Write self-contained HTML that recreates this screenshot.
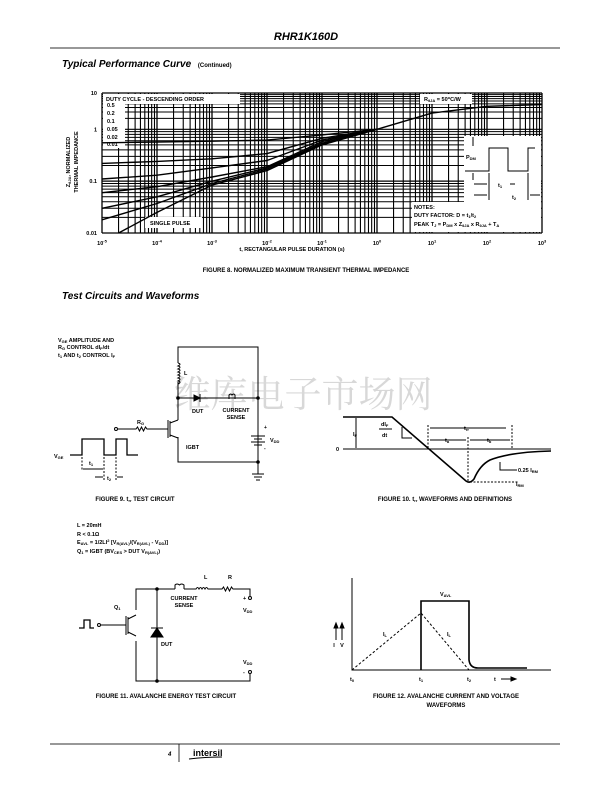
<!DOCTYPE html>
<html><head><meta charset="utf-8">
<style>
html,body{margin:0;padding:0;background:#fff}
svg{display:block}
text{font-family:"Liberation Sans",Arial,sans-serif;font-weight:bold;fill:#000}
.cj{font-family:"Liberation Serif","Noto Serif CJK SC",serif;font-weight:normal}
</style></head><body>
<svg id="page" width="612" height="792" viewBox="0 0 612 792" xmlns="http://www.w3.org/2000/svg">
<text x="306" y="40" font-size="11" font-style="italic" text-anchor="middle">RHR1K160D</text>
<line x1="50" y1="48" x2="560" y2="48" stroke="#777" stroke-width="1.5"/>
<text x="62" y="67" font-size="10" font-style="italic">Typical Performance Curve <tspan font-size="6" font-style="normal" dx="4">(Continued)</tspan></text>

<g id="chart"></g>

<text x="306" y="272" font-size="6" text-anchor="middle">FIGURE 8.  NORMALIZED MAXIMUM TRANSIENT THERMAL IMPEDANCE</text>
<text x="62" y="299" font-size="10" font-style="italic">Test Circuits and Waveforms</text>

<text class="cj" x="303" y="407" font-size="37" text-anchor="middle" fill="#d8d8d8" style="fill:#d8d8d8">维库电子市场网</text>

<!-- FIGURE 9 -->
<g stroke="#000" fill="none" stroke-width="1">
<text x="58" y="342" font-size="5.5" stroke="none" fill="#000">V<tspan font-size="4" dy="1">GE</tspan><tspan dy="-1"> AMPLITUDE AND</tspan></text>
<text x="58" y="349" font-size="5.5" stroke="none">R<tspan font-size="4" dy="1">G</tspan><tspan dy="-1"> CONTROL dI</tspan><tspan font-size="4" dy="1">F</tspan><tspan dy="-1">/dt</tspan></text>
<text x="58" y="357" font-size="5.5" stroke="none">t<tspan font-size="4" dy="1">1</tspan><tspan dy="-1"> AND t</tspan><tspan font-size="4" dy="1">2</tspan><tspan dy="-1"> CONTROL I</tspan><tspan font-size="4" dy="1">F</tspan></text>
<path d="M178 363 V347 H258 V462 H178 V437 M178 382 V420"/>
<path d="M178 363 q4 1 0 3 q4 1 0 3 q4 1 0 3 q4 1 0 3 q4 1 0 3 q4 1 0 3 q4 1 0 3"/>
<text x="184" y="375" font-size="5.5" stroke="none">L</text>
<path d="M178 398 H258"/>
<polygon points="194,395 194,401 200,398" fill="#000"/><line x1="200" y1="394" x2="200" y2="402"/>
<path d="M229 399 v-4 q2 -2 3 0 q2 -2 3 0 v4" />
<circle cx="178" cy="398" r="1.3" fill="#000"/><circle cx="258" cy="398" r="1.3" fill="#000"/><circle cx="258" cy="462" r="1.3" fill="#000"/>
<text x="192" y="413" font-size="5.5" stroke="none">DUT</text>
<text x="236" y="412" font-size="5.5" stroke="none" text-anchor="middle">CURRENT</text>
<text x="236" y="419" font-size="5.5" stroke="none" text-anchor="middle">SENSE</text>
<path d="M170 421 v16 M168 420 v18 M170 423 l8 -3 M170 435 l8 3"/>
<circle cx="116" cy="429" r="1.5"/>
<path d="M118 429 H136 l1.5 -2 l2 4 l2 -4 l2 4 l2 -4 l1.5 2 H168"/>
<text x="137" y="424" font-size="5.5" stroke="none">R<tspan font-size="4" dy="1">G</tspan></text>
<text x="186" y="449" font-size="5.5" stroke="none">IGBT</text>
<path d="M251 436 h14 M254 439 h8 M251 442 h14 M254 445 h8"/>
<text x="264" y="429" font-size="5" stroke="none">+</text><text x="264" y="450" font-size="5" stroke="none">-</text>
<text x="270" y="442" font-size="5.5" stroke="none">V<tspan font-size="4" dy="1">DD</tspan></text>
<path d="M258 462 V474 M252 474 h12 M254 477 h8 M256 480 h4"/>
<path d="M70 455 H82 V439 H104 V455 H116 V439 H127 V455 H138" stroke-width="1.3"/>
<text x="54" y="458" font-size="5.5" stroke="none">V<tspan font-size="4" dy="1">GE</tspan></text>
<path d="M82 457 V470 M104 457 V480 M116 457 V480" stroke-dasharray="2,1.5"/>
<path d="M83 469 h20 M95 477 h8 M117 477 h6"/>
<text x="89" y="465" font-size="5.5" stroke="none">t<tspan font-size="4" dy="1">1</tspan></text>
<text x="107" y="480" font-size="5.5" stroke="none">t<tspan font-size="4" dy="1">2</tspan></text>
</g>
<text x="135" y="501" font-size="6" text-anchor="middle">FIGURE 9.  t<tspan font-size="4" dy="1">rr</tspan><tspan dy="-1"> TEST CIRCUIT</tspan></text>

<!-- FIGURE 10 -->
<g stroke="#000" fill="none" stroke-width="1">
<line x1="343" y1="449" x2="551" y2="449"/>
<text x="336" y="451" font-size="5.5" stroke="none">0</text>
<path d="M343 417 H392 L466 481 Q470 484 474 479 Q480 465 490 460 Q510 452 551 451" stroke-width="1.6"/>
<path d="M356 418 v30" /><text x="353" y="436" font-size="5.5" stroke="none">I<tspan font-size="4" dy="1">F</tspan></text>
<text x="381" y="426" font-size="5.5" stroke="none">dI<tspan font-size="4" dy="1">F</tspan></text>
<line x1="379" y1="429" x2="392" y2="429"/><text x="382" y="437" font-size="5.5" stroke="none">dt</text>
<path d="M402 427 V438 H412"/>
<path d="M428 425 V449 M512 425 V449 M468 437 V482" stroke-dasharray="2,1.5"/>
<path d="M430 428 H506 M430 440 H466 M470 440 H510"/>
<text x="464" y="430" font-size="5.5" stroke="none">t<tspan font-size="4" dy="1">rr</tspan></text>
<text x="445" y="442" font-size="5.5" stroke="none">t<tspan font-size="4" dy="1">a</tspan></text>
<text x="487" y="442" font-size="5.5" stroke="none">t<tspan font-size="4" dy="1">b</tspan></text>
<path d="M470 482 H518" stroke-dasharray="2,1.5"/>
<path d="M500 462 V470 H517"/>
<text x="518" y="472" font-size="5.5" stroke="none">0.25 I<tspan font-size="4" dy="1">RM</tspan></text>
<text x="516" y="486" font-size="5.5" stroke="none">I<tspan font-size="4" dy="1">RM</tspan></text>
</g>
<text x="445" y="501" font-size="6" text-anchor="middle">FIGURE 10.  t<tspan font-size="4" dy="1">rr</tspan><tspan dy="-1"> WAVEFORMS AND DEFINITIONS</tspan></text>

<!-- FIGURE 11 -->
<g stroke="#000" fill="none" stroke-width="1">
<text x="77" y="527" font-size="5.5" stroke="none">L = 20mH</text>
<text x="77" y="536" font-size="5.5" stroke="none">R &lt; 0.1Ω</text>
<text x="77" y="544" font-size="5.5" stroke="none">E<tspan font-size="4" dy="1">AVL</tspan><tspan dy="-1"> = 1/2LI</tspan><tspan font-size="4" dy="-2">2</tspan><tspan dy="2"> [V</tspan><tspan font-size="4" dy="1">R(AVL)</tspan><tspan dy="-1">/(V</tspan><tspan font-size="4" dy="1">R(AVL)</tspan><tspan dy="-1"> - V</tspan><tspan font-size="4" dy="1">DD</tspan><tspan dy="-1">)]</tspan></text>
<text x="77" y="553" font-size="5.5" stroke="none">Q<tspan font-size="4" dy="1">1</tspan><tspan dy="-1"> = IGBT (BV</tspan><tspan font-size="4" dy="1">CES</tspan><tspan dy="-1"> &gt; DUT V</tspan><tspan font-size="4" dy="1">R(AVL)</tspan><tspan dy="-1">)</tspan></text>
<path d="M136 610 V589 H175 M184 589 H196 q1.5 -3 3 0 q1.5 -3 3 0 q1.5 -3 3 0 q1.5 -3 3 0 H222 l1.5 -2 l2 4 l2 -4 l2 4 l2 -4 l1.5 2 H250 V596"/>
<path d="M175 589 v-4 q2 -2 4.5 0 q2 -2 4.5 0 v4"/>
<path d="M136 641 V681 H250 V674 M157 589 V681"/>
<polygon points="151,637 163,637 157,628" fill="#000"/><line x1="151" y1="628" x2="163" y2="628"/>
<circle cx="157" cy="589" r="1.3" fill="#000"/><circle cx="157" cy="681" r="1.3" fill="#000"/>
<circle cx="250" cy="598" r="1.5"/><circle cx="250" cy="672" r="1.5"/>
<path d="M128 617 v17 M126 616 v19 M128 619 l8 -4 M128 632 l8 4"/>
<circle cx="99" cy="625" r="1.5"/><path d="M101 625 H126"/>
<path d="M79 628 H84 V620 H90 V628 H94" stroke-width="1.3"/>
<text x="114" y="609" font-size="5.5" stroke="none">Q<tspan font-size="4" dy="1">1</tspan></text>
<text x="161" y="646" font-size="5.5" stroke="none">DUT</text>
<text x="204" y="579" font-size="5.5" stroke="none">L</text>
<text x="228" y="579" font-size="5.5" stroke="none">R</text>
<text x="184" y="600" font-size="5.5" stroke="none" text-anchor="middle">CURRENT</text>
<text x="184" y="607" font-size="5.5" stroke="none" text-anchor="middle">SENSE</text>
<text x="243" y="600" font-size="5.5" stroke="none">+</text>
<text x="243" y="612" font-size="5.5" stroke="none">V<tspan font-size="4" dy="1">DD</tspan></text>
<text x="243" y="664" font-size="5.5" stroke="none">V<tspan font-size="4" dy="1">DD</tspan></text>
<text x="243" y="674" font-size="5.5" stroke="none">-</text>
</g>
<text x="166" y="698" font-size="6" text-anchor="middle">FIGURE 11.  AVALANCHE ENERGY TEST CIRCUIT</text>

<!-- FIGURE 12 -->
<g stroke="#000" fill="none" stroke-width="1">
<path d="M352 578 V670 H551"/>
<path d="M421 670 V601 H469 V660 Q470 668 478 668 H527" stroke-width="1.6"/>
<path d="M352 670 L421 613 L469 670" stroke-dasharray="2.5,2"/>
<text x="383" y="636" font-size="5.5" stroke="none">I<tspan font-size="4" dy="1">L</tspan></text>
<text x="447" y="636" font-size="5.5" stroke="none">I<tspan font-size="4" dy="1">L</tspan></text>
<text x="440" y="596" font-size="5.5" stroke="none">V<tspan font-size="4" dy="1">AVL</tspan></text>
<path d="M336 640 V626 M342 640 V626"/>
<polygon points="334,628 338,628 336,623" fill="#000"/><polygon points="340,628 344,628 342,623" fill="#000"/>
<text x="334" y="647" font-size="5.5" stroke="none" text-anchor="middle">I</text>
<text x="342" y="647" font-size="5.5" stroke="none" text-anchor="middle">V</text>
<text x="350" y="681" font-size="5.5" stroke="none">t<tspan font-size="4" dy="1">0</tspan></text>
<text x="419" y="681" font-size="5.5" stroke="none">t<tspan font-size="4" dy="1">1</tspan></text>
<text x="467" y="681" font-size="5.5" stroke="none">t<tspan font-size="4" dy="1">2</tspan></text>
<text x="494" y="681" font-size="5.5" stroke="none">t</text>
<path d="M501 679 H512"/><polygon points="511,677 511,681 516,679" fill="#000"/>
</g>
<text x="446" y="698" font-size="6" text-anchor="middle">FIGURE 12.  AVALANCHE CURRENT AND VOLTAGE</text>
<text x="446" y="707" font-size="6" text-anchor="middle">WAVEFORMS</text>

<!-- footer -->
<line x1="50" y1="744" x2="560" y2="744" stroke="#777" stroke-width="1.5"/>
<line x1="179" y1="744" x2="179" y2="762" stroke="#000" stroke-width="0.8"/>
<text x="168" y="756" font-size="6" font-style="italic" font-weight="normal">4</text>
<text x="193" y="756" font-size="9">intersil</text>
<path d="M189 759 Q205 757 222 757" stroke="#000" stroke-width="1" fill="none"/>
</svg>
<script>
// chart data
const dutyLabels = ["0.5","0.2","0.1","0.05","0.02","0.01","single"];
const timeDecades = [1e-5,1e-4,1e-3,1e-2,1e-1,1];
const zD05 = [0.55,0.57,0.59,0.62,0.78,1.0];
const zD02 = [0.22,0.24,0.27,0.34,0.67,1.0];
const zD01 = [0.11,0.13,0.18,0.25,0.62,1.0];
const zD005 = [0.06,0.078,0.12,0.19,0.58,1.0];
const zD002 = [0.03,0.05,0.10,0.18,0.54,1.0];
const zD001 = [0.018,0.037,0.09,0.17,0.52,1.0];
const singleTimes = [2e-5,1e-4,1e-3,1e-2,1e-1,1];
const zSingle = [0.01,0.025,0.084,0.16,0.50,1.0];
const tailTimes = [1,10,100,1000];
const zTail = [1.0,2.8,4.3,4.8];
const xTickLabels = ["-5","-4","-3","-2","-1","0","1","2","3"];
const yTickValues = [0.01,0.1,1,10];
const yTickLabels = ["0.01","0.1","1","10"];

const NS="http://www.w3.org/2000/svg";
const g=document.getElementById('chart');
const X0=102,X1=542,YB=233,Y1=129.3,YT=93;
function xs(t){return X0+(Math.log10(t)+5)*(X1-X0)/8;}
function ys(v){const l=Math.log10(v);return l<=0? Y1-l*(YB-Y1)/2 : Y1-l*(Y1-YT);}
function mk(tag,attrs,parent){const e=document.createElementNS(NS,tag);for(const k in attrs)e.setAttribute(k,attrs[k]);(parent||g).appendChild(e);return e;}
function txt(s,x,y,size,anchor){const e=mk('text',{x:x,y:y,'font-size':size,'text-anchor':anchor||'start'});e.textContent=s;return e;}

// grid
for(let d=-5;d<3;d++){for(let m=1;m<10;m++){const x=xs(m*Math.pow(10,d));
 const l=mk('line',{x1:x,y1:YT,x2:x,y2:YB,stroke:'#000','stroke-width':m==1?1.3:1.1});
 
 }}
mk('line',{x1:X1,y1:YT,x2:X1,y2:YB,stroke:'#000','stroke-width':1.3});
for(let d=-2;d<1;d++){for(let m=1;m<10;m++){const y=ys(m*Math.pow(10,d));
 const l=mk('line',{x1:X0,y1:y,x2:X1,y2:y,stroke:'#000','stroke-width':m==1?1.2:1});
 
 }}
mk('line',{x1:X0,y1:YT,x2:X1,y2:YT,stroke:'#000','stroke-width':1.2});

// white label boxes
mk('rect',{x:X0+1,y:YT+1,width:137,height:10,fill:'#fff'});
mk('rect',{x:X0+1,y:YT+1,width:22,height:54,fill:'#fff'});
mk('rect',{x:420,y:YT+1,width:52,height:10,fill:'#fff'});
mk('rect',{x:464,y:136,width:X1-464-1,height:70,fill:'#fff'});
mk('rect',{x:412,y:202,width:X1-412-1,height:YB-202-1,fill:'#fff'});
mk('rect',{x:145,y:217,width:57,height:11,fill:'#fff'});

// curves
const series=[zD05,zD02,zD01,zD005,zD002,zD001];
function drawCurve(ts,vs,name){let d='';ts.forEach((t,i)=>{d+=(i?'L':'M')+xs(t).toFixed(1)+' '+ys(vs[i]).toFixed(1)+' ';});
 const p=mk('path',{d:d,fill:'none',stroke:'#000','stroke-width':1.4,'stroke-linejoin':'round'});
 
 }
series.forEach((s,i)=>drawCurve(timeDecades,s,'curve-duty-'+dutyLabels[i]));
drawCurve(singleTimes,zSingle,'curve-single-pulse');
drawCurve(tailTimes,zTail,'curve-steady-state');

// tick labels
yTickValues.forEach((v,i)=>{const t=txt(yTickLabels[i],97,ys(v)+2,5.5,'end');
 
 });
xTickLabels.forEach((s,i)=>{const x=xs(Math.pow(10,i-5));const t=txt('',x,245,5.5,'middle');
 t.innerHTML='10<tspan font-size="4" dy="-2.5">'+s+'</tspan>';
 
 });
const xt=txt('t, RECTANGULAR PULSE DURATION (s)',292,251,5.5,'middle');


const yt=mk('text',{'font-size':5.5,'text-anchor':'middle',transform:'translate(70,162) rotate(-90)'});
yt.innerHTML='Z<tspan font-size="4" dy="1">θJA</tspan><tspan dy="-1">, NORMALIZED</tspan>';


const yt2=mk('text',{'font-size':5.5,'text-anchor':'middle',transform:'translate(78,162) rotate(-90)'});
yt2.textContent='THERMAL IMPEDANCE';



// legend
const lt=txt('DUTY CYCLE - DESCENDING ORDER',106,101,5.5);


const legY=[105,113,121,129,137,144];
dutyLabels.slice(0,6).forEach((s,i)=>{const t=txt(s,107,legY[i]+2,5.5);
 
 });
const sp=txt('SINGLE PULSE',150,225,5.5);


const rl=txt('',424,101,5.5);
rl.innerHTML='R<tspan font-size="4" dy="1">θJA</tspan><tspan dy="-1"> = 50</tspan><tspan font-size="4" dy="-2">o</tspan><tspan dy="2">C/W</tspan>';


const n1=txt('NOTES:',414,209,5.5);


const n2=txt('',414,217,5.5);
n2.innerHTML='DUTY FACTOR: D = t<tspan font-size="4" dy="1">1</tspan><tspan dy="-1">/t</tspan><tspan font-size="4" dy="1">2</tspan>';


const n3=txt('',414,226,5.5);
n3.innerHTML='PEAK T<tspan font-size="4" dy="1">J</tspan><tspan dy="-1"> = P</tspan><tspan font-size="4" dy="1">DM</tspan><tspan dy="-1"> x Z</tspan><tspan font-size="4" dy="1">θJA</tspan><tspan dy="-1"> x R</tspan><tspan font-size="4" dy="1">θJA</tspan><tspan dy="-1"> + T</tspan><tspan font-size="4" dy="1">A</tspan>';



// pulse inset
const pi=mk('path',{d:'M465 171 H489 V148 H508 V171 H528 V148 H535 M473 137 V146 M473 180 V173 M489 173 V200 M528 173 V200 M474 184 H487 M515 184 H510 M474 195 H487 M540 195 H530',fill:'none',stroke:'#000','stroke-width':1});


const pdm=txt('',466,159,5.5);
pdm.innerHTML='P<tspan font-size="4" dy="1">DM</tspan>';


const t1=txt('',498,187,5.5);t1.innerHTML='t<tspan font-size="4" dy="1">1</tspan>';


const t2=txt('',512,199,5.5);t2.innerHTML='t<tspan font-size="4" dy="1">2</tspan>';


</script>
</body></html>
